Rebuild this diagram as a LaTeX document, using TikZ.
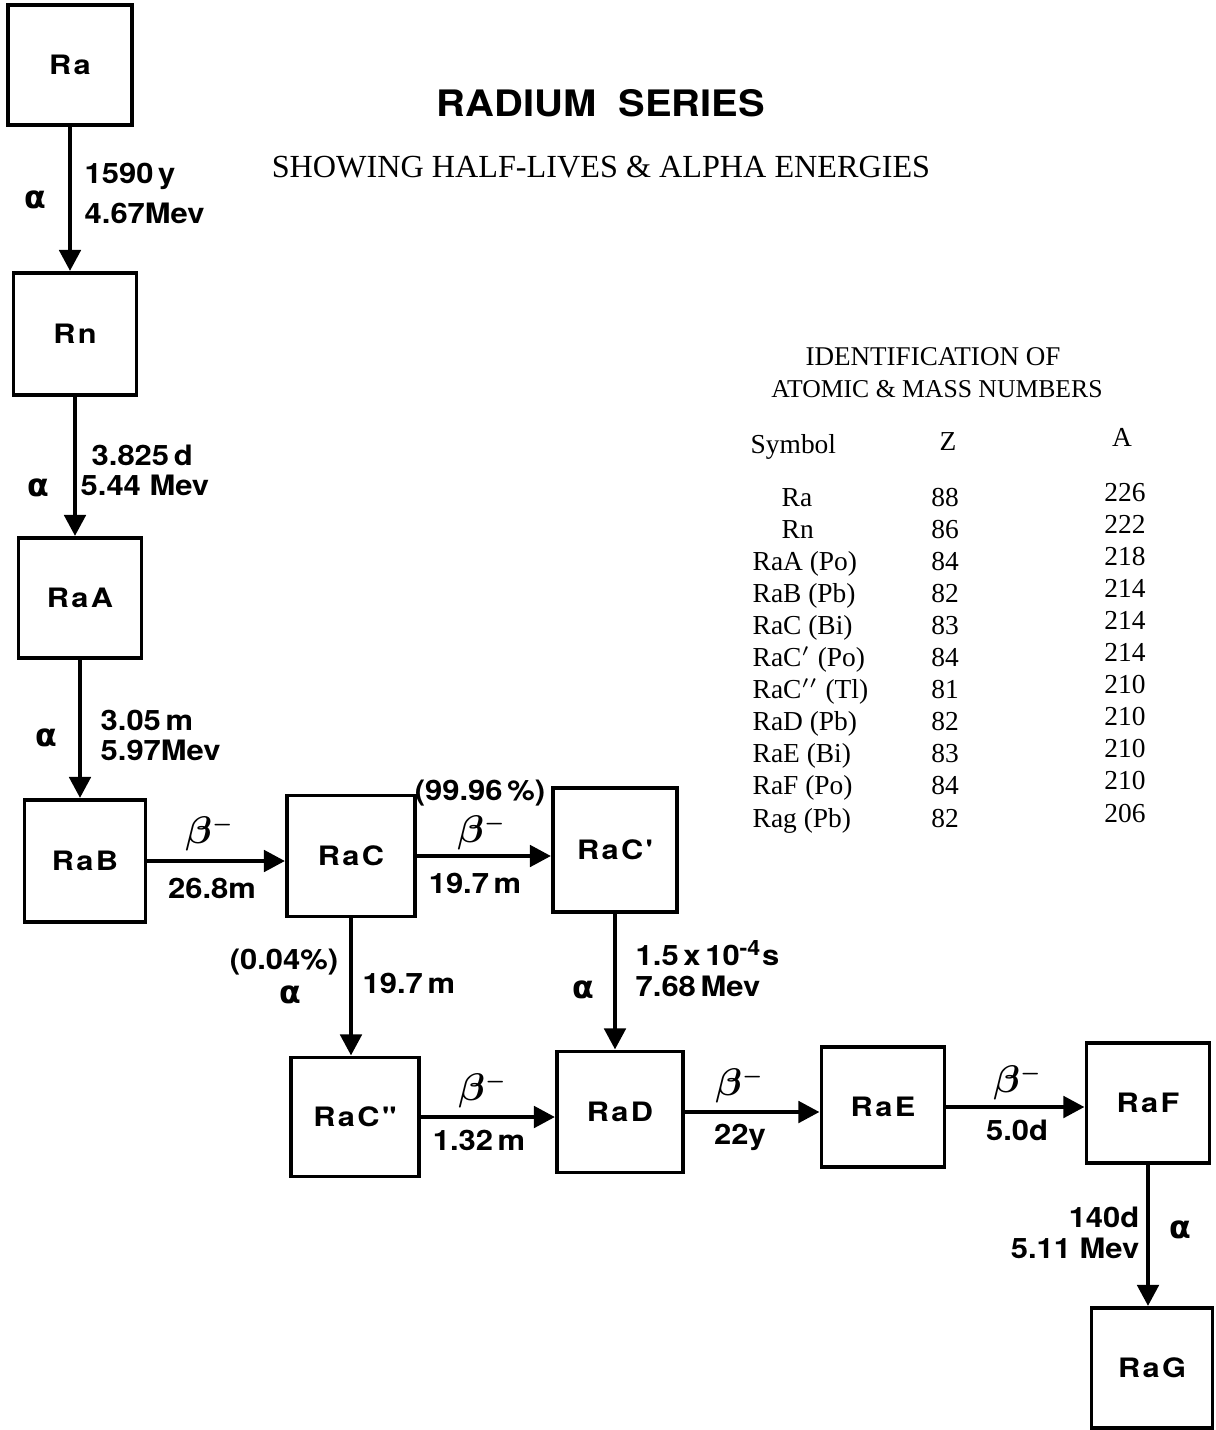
\documentclass[tikz,border=0pt]{standalone}
\usepackage{fontspec}
\setmainfont{Liberation Serif}
\newfontfamily\hv{TeX Gyre Heros}[FakeStretch=1.1]
\newfontfamily\hvbox{TeX Gyre Heros}[FakeStretch=1.15,LetterSpace=9]
\newfontfamily\dv{DejaVu Sans}
\usetikzlibrary{arrows.meta}
\tikzset{
  box/.style={draw, line width=1.1pt, inner sep=0pt, font=\hvbox\bfseries\fontsize{7.6}{8}\selectfont},
  arr/.style={line width=1.3pt, -{Triangle[length=6pt,width=6pt]}},
  lab/.style={font=\hv\bfseries\fontsize{8}{9}\selectfont, inner sep=0pt},
  al/.style={font=\dv\bfseries\fontsize{9}{9}\selectfont, inner sep=0pt},
  bt/.style={font=\fontsize{11}{11}\selectfont\boldmath, inner sep=0pt},
  tb/.style={font=\fontsize{7.8}{9}\selectfont, inner sep=0pt},
  th/.style={font=\fontsize{7.3}{9}\selectfont, inner sep=0pt}
}
\newcommand{\betam}{$\beta^{\scriptscriptstyle -}$}
\begin{document}
\begin{tikzpicture}[x=0.01cm,y=-0.01cm]
\useasboundingbox (0,0) rectangle (1216,1430);
% title
\node[inner sep=0pt, anchor=base] (title) at (601,116) {\resizebox{3.28cm}{0.27cm}{\hv\bfseries RADIUM\ \ SERIES}};
\node[inner sep=0pt, anchor=base] (sub) at (601,177) {\resizebox{6.58cm}{!}{\fontsize{8}{9}\selectfont SHOWING HALF-LIVES \& ALPHA ENERGIES}};
% boxes
\node[box, minimum width=1.24cm, minimum height=1.2cm] (ra) at (70,65) {Ra};
\node[box, minimum width=1.23cm, minimum height=1.22cm] (rn) at (75,334) {Rn};
\node[box, minimum width=1.23cm, minimum height=1.2cm] (raa) at (80,598) {RaA};
\node[box, minimum width=1.21cm, minimum height=1.22cm] (rab) at (85,861) {RaB};
\node[box, minimum width=1.28cm, minimum height=1.21cm] (rac) at (351,856) {RaC};
\node[box, minimum width=1.24cm, minimum height=1.24cm] (racp) at (615,850) {RaC'};
\node[box, minimum width=1.28cm, minimum height=1.19cm] (racpp) at (355,1117) {RaC"};
\node[box, minimum width=1.26cm, minimum height=1.21cm] (rad) at (620,1112) {RaD};
\node[box, minimum width=1.23cm, minimum height=1.2cm] (rae) at (883,1107) {RaE};
\node[box, minimum width=1.23cm, minimum height=1.2cm] (raf) at (1148,1103) {RaF};
\node[box, minimum width=1.21cm, minimum height=1.2cm] (rag) at (1152,1368) {RaG};
% arrows
\draw[arr] (ra) -- (ra |- rn.north);
\draw[arr] (rn) -- (rn |- raa.north);
\draw[arr] (raa) -- (raa |- rab.north);
\draw[arr] (rab) -- (rab -| rac.west);
\draw[arr] (rac) -- (rac -| racp.west);
\draw[arr] (rac) -- (rac |- racpp.north);
\draw[arr] (racp) -- (racp |- rad.north);
\draw[arr] (racpp) -- (racpp -| rad.west);
\draw[arr] (rad) -- (rad -| rae.west);
\draw[arr] (rae) -- (rae -| raf.west);
\draw[arr] (raf) -- (raf |- rag.north);
% labels
\node[al] (l1a) at (35,200) {α};
\node[lab, anchor=west] (l1b) at (84,176) {1590\,y};
\node[lab, anchor=west] (l1c) at (84,213) {4.67Mev};
\node[al] (l2a) at (38,488) {α};
\node[lab, anchor=west] (l2b) at (91,455) {3.825\,d};
\node[lab, anchor=west] (l2c) at (80,485) {5.44 Mev};
\node[al] (l3a) at (46,738) {α};
\node[lab, anchor=west] (l3b) at (100,720) {3.05\,m};
\node[lab, anchor=west] (l3c) at (100,750) {5.97Mev};
\node[bt] (l4a) at (210,834) {\betam};
\node[lab] (l4b) at (212,888) {26.8m};
\node[lab] (l5a) at (480,793) {(99.96\,\%)};
\node[bt] (l5b) at (482,833) {\betam};
\node[lab] (l5c) at (475,883) {19.7\,m};
\node[lab] (l6a) at (284,962) {(0.04\%)};
\node[al] (l6b) at (290,995) {α};
\node[lab, anchor=west] (l6c) at (362,983) {19.7\,m};
\node[lab, anchor=west] (l7a) at (635,953) {1.5\,x\,10\textsuperscript{-4}s};
\node[lab, anchor=west] (l7b) at (635,986) {7.68\,Mev};
\node[al] (l7c) at (583,990) {α};
\node[bt] (l8a) at (483,1091) {\betam};
\node[lab] (l8b) at (479,1140) {1.32\,m};
\node[bt] (l9a) at (740,1086) {\betam};
\node[lab] (l9b) at (740,1137) {22y};
\node[bt] (l10a) at (1018,1083) {\betam};
\node[lab] (l10b) at (1017,1130) {5.0d};
\node[lab, anchor=east] (l11a) at (1140,1217) {140d};
\node[lab, anchor=east] (l11b) at (1140,1248) {5.11 Mev};
\node[al] (l11c) at (1180,1230) {α};
% table
\node[th, anchor=base, font=\fontsize{7.7}{9}\selectfont] (h1) at (933,365) {IDENTIFICATION OF};
\node[th, anchor=base] (h2) at (937,397) {ATOMIC \& MASS NUMBERS};
\node[tb, anchor=base west] (c1) at (750,453) {Symbol};
\node[tb, anchor=base] (c2) at (948,450) {Z};
\node[tb, anchor=base] (c3) at (1122,446) {A};
\foreach \s/\z/\a/\i/\x in {Ra/88/226/0/781, Rn/86/222/1/781, RaA (Po)/84/218/2/752, RaB (Pb)/82/214/3/752, RaC (Bi)/83/214/4/752, RaC$'$ (Po)/84/214/5/752, RaC$''$ (Tl)/81/210/6/752, RaD (Pb)/82/210/7/752, RaE (Bi)/83/210/8/752, RaF (Po)/84/210/9/752, Rag (Pb)/82/206/10/752} {
  \node[tb, anchor=base west] (s\i) at (\x,{506+32.1*\i}) {\s};
  \node[tb, anchor=base] (z\i) at (945,{506+32.1*\i}) {\z};
  \node[tb, anchor=base] (a\i) at (1125,{501+32.1*\i}) {\a};
}
\end{tikzpicture}
\end{document}
